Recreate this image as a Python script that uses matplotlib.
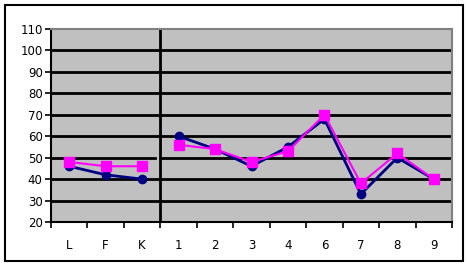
import numpy as np
import matplotlib.pyplot as plt
from matplotlib.patches import Rectangle

# categories and values
cats = ['L', 'F', 'K', '1', '2', '3', '4', '6', '7', '8', '9']
navy_vals = [46, 42, 40, 60, 54, 46, 55, 68, 33, 50, 40]
pink_vals = [48, 46, 46, 56, 54, 48, 53, 70, 38, 52, 40]
split = 3  # L, F, K are a separate block from 1..9
yticks = list(range(20, 111, 10))

fig = plt.figure(figsize=(4.67, 2.66), dpi=100)
fig.patches.append(Rectangle((5/467, 5/266), 458/467, 256/266, transform=fig.transFigure,
                             fill=False, edgecolor='black', linewidth=1.5))
ax = fig.add_axes([51/467, 44/266, 401/467, 193/266])
ax.set_facecolor('#c0c0c0')

x = np.arange(len(cats))
ax.set_xlim(-0.5, len(cats) - 0.5)
ax.set_ylim(20, 110)

# horizontal gridlines, the 50 line has a small gap at the divider
for y in yticks[1:-1]:
    if y == 50:
        ax.plot([-0.5, 2.35], [y, y], color='black', lw=2, zorder=1)
        ax.plot([2.54, len(cats) - 0.5], [y, y], color='black', lw=2, zorder=1)
    else:
        ax.axhline(y, color='black', lw=2, zorder=1)
ax.axvline(split - 0.5, color='black', lw=2, zorder=1)

for seg in (slice(0, split), slice(split, len(cats))):
    ax.plot(x[seg], navy_vals[seg], color='#000080', lw=2, marker='o', ms=6, zorder=3)
    ax.plot(x[seg], pink_vals[seg], color='#ff00ff', lw=1.5, marker='s', ms=7, zorder=4)

ax.set_yticks(yticks)
ax.set_xticks(x)
ax.set_xticklabels(cats)
ax.set_xticks(np.arange(-0.5, len(cats)), minor=True)
ax.tick_params(axis='x', which='major', length=0, pad=12, labelsize=8.5)
ax.tick_params(axis='x', which='minor', length=4, width=1.2, direction='out')
ax.tick_params(axis='y', length=4, width=1.2, labelsize=8.5, pad=2)

for side in ('top', 'right'):
    ax.spines[side].set_color('#808080')
    ax.spines[side].set_linewidth(1.5)
for side in ('left', 'bottom'):
    ax.spines[side].set_linewidth(1.5)

fig.savefig('out.png', dpi=100)
